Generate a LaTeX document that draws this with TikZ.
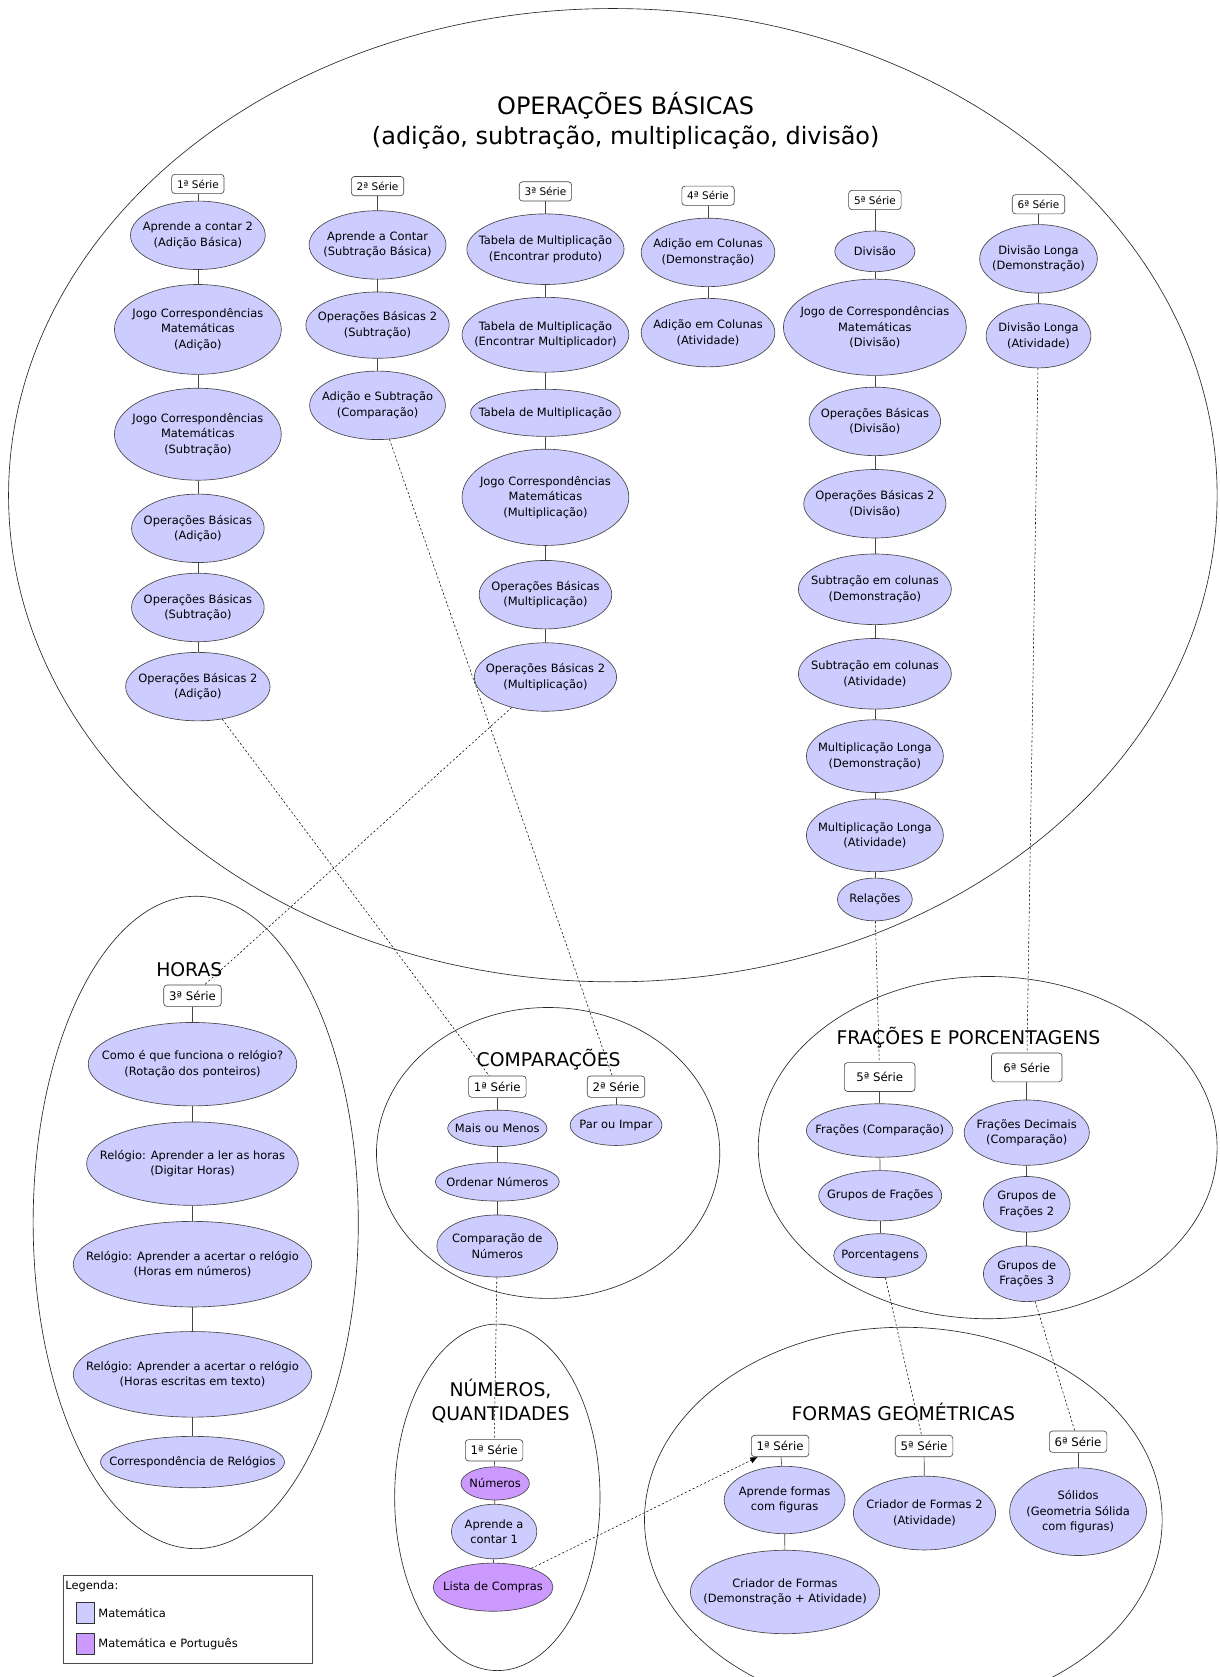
\documentclass[tikz,border=0pt]{standalone}
\usepackage{fontspec}
\setmainfont{DejaVu Sans}
\usepackage{tikz}
\usetikzlibrary{arrows.meta,positioning,shapes.geometric}
\definecolor{matpale}{RGB}{204,204,255}
\definecolor{matport}{RGB}{204,153,255}
\definecolor{linegray}{RGB}{70,70,70}
\newcommand\topicfont{\fontsize{10.7}{14.5}\selectfont}
\newcommand\seriefont{\fontsize{11}{13}\selectfont}
\newcommand\seriesmall{\fontsize{9.8}{12}\selectfont}
\newcommand\areafont{\fontsize{17.6}{22}\selectfont}
\newcommand\bigtitlefont{\fontsize{22.4}{28}\selectfont}
\newcommand\legendfont{\fontsize{10.7}{13}\selectfont}
\tikzset{
  topic/.style={ellipse,draw=linegray,line width=0.6pt,fill=matpale,inner sep=-60pt,font=\topicfont},
  topicpt/.style={topic,fill=matport},
  sz/.style 2 args={minimum width=#1pt,minimum height=#2pt},
  serie/.style={rectangle,rounded corners=3pt,draw=linegray,line width=0.6pt,fill=white,inner xsep=5pt,inner ysep=0pt,minimum height=20pt,font=\seriefont},
  seriesm/.style={serie,minimum height=18pt,font=\seriesmall},
  seriebig/.style={serie,minimum width=66pt,minimum height=27pt},
  area/.style={ellipse,draw=black!85,line width=0.6pt,inner sep=0pt},
  areatitle/.style={font=\areafont,inner sep=0pt},
  tie/.style={draw=linegray,line width=0.6pt},
  crosslink/.style={draw=black,line width=0.5pt,dash pattern=on 2pt off 2pt},
  swatch/.style={rectangle,draw=black!80,line width=0.6pt,minimum width=17pt,minimum height=20pt,inner sep=0pt},
  legendtext/.style={font=\legendfont,inner sep=1pt},
}

\begin{document}
\begin{tikzpicture}[x=1pt,y=-1pt,>=Latex,every node/.style={align=center}]
  \path[use as bounding box,fill=white] (0,0) rectangle (1140,1568);

  % regions
  \node[area,sz={1130}{910}] (opbas) at (573,463) {};
  \node[area,sz={304}{610}] (horas) at (183,1143) {};
  \node[area,sz={321}{272}] (comp) at (512.5,1078) {};
  \node[area,sz={429}{320}] (frac) at (923.5,1073) {};
  \node[area,sz={192}{324}] (nums) at (465,1400) {};
  \node[area,sz={484}{360}] (formas) at (844.6,1421) {};

  \node[areatitle,font=\bigtitlefont] (opbastitle) at (585,113) {OPERAÇÕES BÁSICAS\\(adição, subtração, multiplicação, divisão)};
  \node[areatitle] (horastitle) at (177,907) {HORAS};
  \node[areatitle] (comptitle) at (513,991) {COMPARAÇÕES};
  \node[areatitle] (fractitle) at (905.5,970) {FRAÇÕES E PORCENTAGENS};
  \node[areatitle] (numstitle) at (468,1310) {NÚMEROS,\\QUANTIDADES};
  \node[areatitle] (formastitle) at (844.6,1320) {FORMAS GEOMÉTRICAS};

  % operações básicas, 1a serie
  \node[seriesm] (s1) at (185,172) {1ª Série};
  \node[topic,sz={126}{64}] (a1) at (185,220) {Aprende a contar 2\\(Adição Básica)};
  \node[topic,sz={156}{84}] (a2) at (185,308) {Jogo Correspondências\\Matemáticas\\(Adição)};
  \node[topic,sz={156}{86}] (a3) at (185,406) {Jogo Correspondências\\Matemáticas\\(Subtração)};
  \node[topic,sz={124}{64}] (a4) at (185,494) {Operações Básicas\\(Adição)};
  \node[topic,sz={124}{64}] (a5) at (185,568) {Operações Básicas\\(Subtração)};
  \node[topic,sz={135}{64}] (a6) at (185,642) {Operações Básicas 2\\(Adição)};

  % 2a serie
  \node[seriesm] (s2) at (353,174) {2ª Série};
  \node[topic,sz={128}{64}] (b1) at (353,229) {Aprende a Contar\\(Subtração Básica)};
  \node[topic,sz={134}{62}] (b2) at (353,304) {Operações Básicas 2\\(Subtração)};
  \node[topic,sz={127}{64}] (b3) at (353,379) {Adição e Subtração\\(Comparação)};

  % 3a serie
  \node[seriesm] (s3) at (510,179) {3ª Série};
  \node[topic,sz={147}{66}] (c1) at (510,233) {Tabela de Multiplicação\\(Encontrar produto)};
  \node[topic,sz={156}{70}] (c2) at (510,313) {Tabela de Multiplicação\\(Encontrar Multiplicador)};
  \node[topic,sz={140}{44}] (c3) at (510,386) {Tabela de Multiplicação};
  \node[topic,sz={156}{90}] (c4) at (510,465) {Jogo Correspondências\\Matemáticas\\(Multiplicação)};
  \node[topic,sz={124}{64}] (c5) at (510,556) {Operações Básicas\\(Multiplicação)};
  \node[topic,sz={133}{64}] (c6) at (510,633) {Operações Básicas 2\\(Multiplicação)};

  % 4a serie
  \node[seriesm] (s4) at (662,183) {4ª Série};
  \node[topic,sz={125}{64}] (d1) at (662,236) {Adição em Colunas\\(Demonstração)};
  \node[topic,sz={125}{64}] (d2) at (662,311) {Adição em Colunas\\(Atividade)};

  % 5a serie
  \node[seriesm] (s5) at (818,187) {5ª Série};
  \node[topic,sz={75}{38}] (e1) at (818,235) {Divisão};
  \node[topic,sz={171}{90}] (e2) at (818,306) {Jogo de Correspondências\\Matemáticas\\(Divisão)};
  \node[topic,sz={123}{64}] (e3) at (818,394) {Operações Básicas\\(Divisão)};
  \node[topic,sz={133}{64}] (e4) at (818,471) {Operações Básicas 2\\(Divisão)};
  \node[topic,sz={143}{66}] (e5) at (818,551) {Subtração em colunas\\(Demonstração)};
  \node[topic,sz={143}{66}] (e6) at (818,630) {Subtração em colunas\\(Atividade)};
  \node[topic,sz={128}{68}] (e7) at (818,707) {Multiplicação Longa\\(Demonstração)};
  \node[topic,sz={128}{68}] (e8) at (818,781) {Multiplicação Longa\\(Atividade)};
  \node[topic,sz={70}{40}] (e9) at (818,841) {Relações};

  % 6a serie
  \node[seriesm] (s6) at (971,191) {6ª Série};
  \node[topic,sz={110}{64}] (f1) at (971,242) {Divisão Longa\\(Demonstração)};
  \node[topic,sz={98}{60}] (f2) at (971,314) {Divisão Longa\\(Atividade)};

  % horas
  \node[serie] (hs3) at (180,931) {3ª Série};
  \node[topic,sz={195}{78}] (h1) at (180,995) {Como é que funciona o relógio?\\(Rotação dos ponteiros)};
  \node[topic,sz={198}{78}] (h2) at (180,1088) {Relógio: Aprender a ler as horas\\(Digitar Horas)};
  \node[topic,sz={223}{80}] (h3) at (180,1182) {Relógio: Aprender a acertar o relógio\\(Horas em números)};
  \node[topic,sz={223}{80}] (h4) at (180,1285) {Relógio: Aprender a acertar o relógio\\(Horas escritas em texto)};
  \node[topic,sz={172}{48}] (h5) at (180,1367) {Correspondência de Relógios};

  % comparacoes
  \node[serie] (cs1) at (465,1016) {1ª Série};
  \node[serie] (cs2) at (576,1016) {2ª Série};
  \node[topic,sz={93}{34}] (g1) at (465,1055) {Mais ou Menos};
  \node[topic,sz={116}{36}] (g2) at (465,1105) {Ordenar Números};
  \node[topic,sz={113}{58}] (g3) at (465,1165) {Comparação de\\Números};
  \node[topic,sz={86}{38}] (g4) at (576,1052) {Par ou Impar};

  % fracoes e porcentagens
  \node[seriebig] (fs5) at (822.5,1007) {5ª Série};
  \node[seriebig] (fs6) at (960,998) {6ª Série};
  \node[topic,sz={137}{50}] (p1) at (822.5,1057) {Frações (Comparação)};
  \node[topic,sz={115}{47}] (p2) at (823,1118) {Grupos de Frações};
  \node[topic,sz={87}{41}] (p3) at (823,1174) {Porcentagens};
  \node[topic,sz={117}{61}] (q1) at (960,1059) {Frações Decimais\\(Comparação)};
  \node[topic,sz={81}{52}] (q2) at (960,1126) {Grupos de\\Frações 2};
  \node[topic,sz={81}{52}] (q3) at (960,1191) {Grupos de\\Frações 3};

  % numeros, quantidades
  \node[serie] (ns1) at (462,1356) {1ª Série};
  \node[topicpt,sz={64}{31}] (n1) at (463,1387) {Números};
  \node[topic,sz={80}{51}] (n2) at (462,1432) {Aprende a\\contar 1};
  \node[topicpt,sz={112}{45}] (n3) at (461,1484) {Lista de Compras};

  % formas geometricas
  \node[serie] (ts1) at (729.4,1352) {1ª Série};
  \node[serie] (ts5) at (864,1352) {5ª Série};
  \node[serie] (ts6) at (1008,1348) {6ª Série};
  \node[topic,sz={113}{63}] (r1) at (733.6,1402.5) {Aprende formas\\com figuras};
  \node[topic,sz={177}{78}] (r2) at (734,1488.5) {Criador de Formas\\(Demonstração + Atividade)};
  \node[topic,sz={133}{69}] (r3) at (864.4,1414.7) {Criador de Formas 2\\(Atividade)};
  \node[topic,sz={128}{82}] (r4) at (1008,1413.4) {Sólidos\\(Geometria Sólida\\com figuras)};

  % ties inside the columns
  \draw[tie] (s1) -- (a1); \draw[tie] (a1) -- (a2); \draw[tie] (a2) -- (a3);
  \draw[tie] (a3) -- (a4); \draw[tie] (a4) -- (a5); \draw[tie] (a5) -- (a6);
  \draw[tie] (s2) -- (b1); \draw[tie] (b1) -- (b2); \draw[tie] (b2) -- (b3);
  \draw[tie] (s3) -- (c1); \draw[tie] (c1) -- (c2); \draw[tie] (c2) -- (c3);
  \draw[tie] (c3) -- (c4); \draw[tie] (c4) -- (c5); \draw[tie] (c5) -- (c6);
  \draw[tie] (s4) -- (d1); \draw[tie] (d1) -- (d2);
  \draw[tie] (s5) -- (e1); \draw[tie] (e1) -- (e2); \draw[tie] (e2) -- (e3);
  \draw[tie] (e3) -- (e4); \draw[tie] (e4) -- (e5); \draw[tie] (e5) -- (e6);
  \draw[tie] (e6) -- (e7); \draw[tie] (e7) -- (e8); \draw[tie] (e8) -- (e9);
  \draw[tie] (s6) -- (f1); \draw[tie] (f1) -- (f2);
  \draw[tie] (hs3) -- (h1); \draw[tie] (h1) -- (h2); \draw[tie] (h2) -- (h3);
  \draw[tie] (h3) -- (h4); \draw[tie] (h4) -- (h5);
  \draw[tie] (cs1) -- (g1); \draw[tie] (g1) -- (g2); \draw[tie] (g2) -- (g3);
  \draw[tie] (cs2) -- (g4);
  \draw[tie] (fs5) -- (p1); \draw[tie] (p1) -- (p2); \draw[tie] (p2) -- (p3);
  \draw[tie] (fs6) -- (q1); \draw[tie] (q1) -- (q2); \draw[tie] (q2) -- (q3);
  \draw[tie] (ns1) -- (n1); \draw[tie] (n1) -- (n2); \draw[tie] (n2) -- (n3);
  \draw[tie] (ts1) -- (r1); \draw[tie] (r1) -- (r2);
  \draw[tie] (ts5) -- (r3); \draw[tie] (ts6) -- (r4);

  % links between regions
  \draw[crosslink] (a6) -- (cs1);
  \draw[crosslink] (c6) -- (hs3);
  \draw[crosslink] (b3) -- (cs2);
  \draw[crosslink] (e9) -- (fs5);
  \draw[crosslink] (f2) -- (fs6);
  \draw[crosslink] (g3) -- (ns1);
  \draw[crosslink] (p3) -- (ts5);
  \draw[crosslink] (q3) -- (ts6);
  \draw[crosslink,-{Latex[length=7pt,width=6pt]}] (n3) -- (ts1);

  % legend
  \node[draw=black!70,line width=0.6pt,minimum width=233pt,minimum height=82pt,anchor=north west] (legend) at (59,1473) {};
  \node[legendtext,anchor=west] (legendhead) at (60,1483) {Legenda:};
  \node[swatch,fill=matpale] (swmat) at (80,1508) {};
  \node[swatch,fill=matport] (swport) at (80,1537) {};
  \node[legendtext,right=2pt of swmat] (lbmat) {Matemática};
  \node[legendtext,right=2pt of swport] (lbport) {Matemática e Português};
\end{tikzpicture}
\end{document}
